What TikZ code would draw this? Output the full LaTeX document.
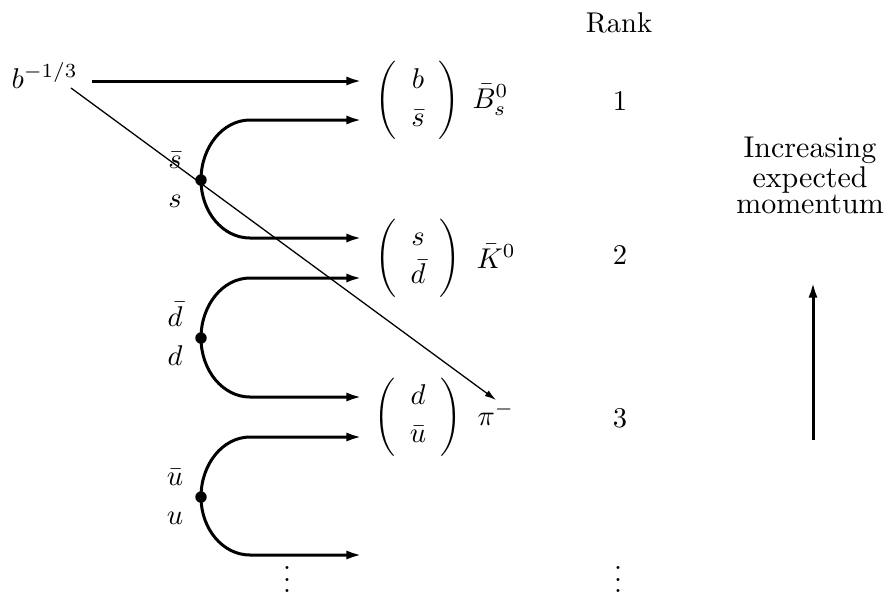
\documentclass[tikz,border=0pt]{standalone}
\usepackage{graphicx}
\usetikzlibrary{arrows.meta}
\newcommand{\qqmat}[2]{\ensuremath{\vcenter{\hbox{\scalebox{1}[1.14]{$\biggl($}}}\begin{array}{c}#1\\[1.3pt]#2\end{array}\vcenter{\hbox{\scalebox{1}[1.14]{$\biggr)$}}}}}
\begin{document}
\begin{tikzpicture}[x=0.35pt,y=-0.35pt,
  quark/.style={line width=1.05pt,-{Latex[length=5.5pt,width=3.2pt]}},
  thinarrow/.style={line width=0.45pt,-{Latex[length=4pt,width=2.4pt]}},
  vert/.style={circle,fill,inner sep=0pt,minimum size=4pt},
  lbl/.style={inner sep=0pt,anchor=base}]
\useasboundingbox (0,0) rectangle (892,595);
% header
\node[lbl] (rank) at (619,32) {Rank};
% initial b quark
\node[lbl,anchor=base west] (b) at (11,88) {$b^{-1/3}$};
\coordinate (bs) at (92,81);
\coordinate (be) at (362,81);
\draw[quark] (bs) -- (be);
% string breakings
\foreach \n/\yd/\yt/\yb/\qa/\qb in {1/180/120/238/\bar{s}/s, 2/338/278/397/\bar{d}/d, 3/497/437/555/\bar{u}/u}{
  \coordinate (t\n) at (362,\yt);
  \coordinate (u\n) at (362,\yb);
  \draw[quark] (201,\yd) .. controls (201,{\yd-0.552*(\yd-\yt)}) and ({250-0.552*49},\yt) .. (250,\yt) -- (t\n);
  \draw[quark] (201,\yd) .. controls (201,{\yd+0.552*(\yb-\yd)}) and ({250-0.552*49},\yb) .. (250,\yb) -- (u\n);
  \node[vert] (v\n) at (201,\yd) {};
  \node[lbl] (qa\n) at (175,{\yd-12}) {$\qa$};
  \node[lbl] (qb\n) at (175,{\yd+27}) {$\qb$};
}
% mesons
\node[inner sep=0pt] (m1) at (418,100.5) {\qqmat{b}{\bar{s}}};
\node[inner sep=0pt] (m2) at (418,258) {\qqmat{s}{\bar{d}}};
\node[inner sep=0pt] (m3) at (418,417) {\qqmat{d}{\bar{u}}};
\node[lbl,anchor=base west] (B) at (472,108) {$\bar{B}^0_s$};
\node[lbl,anchor=base west] (K) at (476,268) {$\bar{K}^0$};
\node[lbl,anchor=base west] (pi) at (477,425) {$\pi^-$};
% ranks
\node[lbl] (r1) at (620,110) {1};
\node[lbl] (r2) at (620,264) {2};
\node[lbl] (r3) at (620,427) {3};
\node[inner sep=0pt,anchor=south] (dl) at (287,593) {$\vdots$};
\node[inner sep=0pt,anchor=south] (dr) at (618,593) {$\vdots$};
% diagonal
\coordinate (ds) at (71,88);
\coordinate (de) at (496,400);
\draw[thinarrow] (ds) -- (de);
% momentum
\node[align=center,inner sep=0pt,font=\fontsize{10.5}{9.1}\selectfont] (mom) at (810,175) {Increasing\\expected\\momentum};
\coordinate (ms) at (813,440);
\coordinate (me) at (813,282);
\draw[quark] (ms) -- (me);
\end{tikzpicture}
\end{document}
